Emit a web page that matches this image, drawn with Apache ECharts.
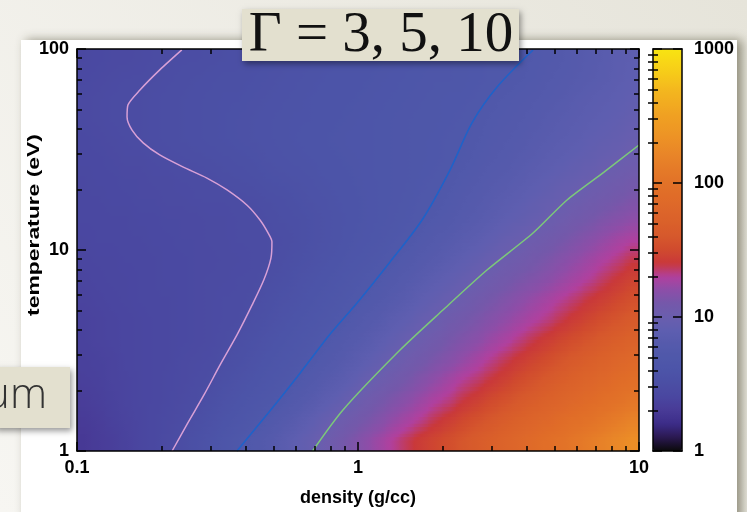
<!DOCTYPE html>
<html><head><meta charset="utf-8">
<script src="https://cdn.jsdelivr.net/npm/echarts@6/dist/echarts.min.js"></script>
<style>html,body{margin:0;padding:0;background:#f0efe9;overflow:hidden}#c{width:747px;height:512px}</style>
</head><body><div id="c"></div>
<script>
// ---- data ----
const densityRange = [0.1, 10];      // g/cc
const temperatureRange = [1, 100];   // eV
const gammaRange = [1, 1000];
const densityMinorTicks = [0.2,0.3,0.4,0.5,0.6,0.7,0.8,0.9,2,3,4,5,6,7,8,9];
const temperatureMinorTicks = [2,3,4,5,6,7,8,9,20,30,40,50,60,70,80,90];
const gammaMinorTicks = [2,3,4,5,6,7,8,9,20,30,40,50,60,70,80,90,200,300,400,500,600,700,800,900];
const titleText = 'Γ = 3, 5, 10';
const sideText = 'um';
const xName = 'density (g/cc)';
const yName = 'temperature (eV)';

// log10(Γ) x 100 ; 20 rows (bottom T≈1.1 eV → top T≈89 eV), 40 density columns (0.1 → 10)
const gammaLogRows = [
[29,32,34,37,40,43,46,49,54,58,63,68,73,78,84,90,95,101,107,113,119,125,131,137,143,148,153,159,165,170,176,182,188,194,200,206,212,218,224,230],
[31,33,36,38,40,43,45,47,51,55,59,63,67,72,78,83,89,95,101,106,111,116,122,127,132,138,143,149,155,160,166,172,178,183,189,195,200,206,212,218],
[33,35,37,39,41,42,44,46,48,52,56,59,63,67,70,76,81,87,92,98,104,109,114,119,124,129,133,139,144,150,155,161,166,172,177,183,188,194,199,205],
[35,36,38,39,41,42,44,45,47,49,53,56,59,63,66,70,75,80,85,90,96,101,106,111,116,121,126,131,135,140,145,151,156,162,167,173,178,183,189,194],
[36,37,38,40,41,42,43,45,46,47,50,53,56,60,63,66,70,74,79,84,89,94,99,104,108,113,117,122,127,132,137,142,147,152,158,163,168,173,179,184],
[37,38,39,40,41,42,43,44,45,46,48,51,54,57,60,63,66,70,74,79,83,88,93,98,102,106,111,115,119,124,128,133,138,143,148,153,158,163,168,173],
[37,38,39,40,41,42,43,44,45,46,47,48,51,54,57,60,63,66,69,73,78,82,87,91,96,100,105,109,113,117,121,125,129,133,138,143,148,153,158,163],
[38,39,40,41,42,43,43,44,45,46,47,47,49,52,55,57,60,63,66,69,72,76,81,85,90,94,98,102,107,111,115,119,123,127,131,135,140,144,149,154],
[39,40,41,41,42,43,44,44,45,46,46,47,47,50,52,55,58,60,63,66,69,72,76,80,84,88,92,96,100,104,108,112,115,119,123,127,131,136,141,146],
[40,41,41,42,42,43,44,44,45,45,46,46,47,48,50,53,55,58,60,63,65,68,71,75,79,82,86,90,94,98,102,105,109,113,117,121,125,129,133,138],
[41,42,42,43,43,44,44,45,45,46,46,47,47,48,49,51,54,56,58,61,63,65,68,70,74,78,81,85,88,92,96,99,103,106,110,114,118,122,126,129],
[42,42,43,43,44,44,45,45,45,46,46,47,47,49,51,52,54,56,58,60,62,64,66,68,70,73,76,80,83,86,90,93,96,100,103,107,110,114,117,120],
[43,43,44,44,45,45,46,46,47,47,47,48,49,51,52,54,56,57,59,60,62,64,65,67,69,70,73,77,80,83,86,89,92,95,98,101,104,107,110,113],
[43,44,44,45,45,46,46,47,47,48,50,51,52,54,55,56,57,59,60,61,63,64,65,66,68,69,71,74,77,80,82,85,88,91,94,96,99,102,104,107],
[44,44,45,46,46,47,48,49,50,51,52,53,54,56,57,58,59,60,61,62,63,64,65,66,67,68,69,71,74,77,79,82,84,87,89,92,94,97,99,102],
[44,45,46,47,48,49,50,51,52,53,54,55,56,57,58,59,60,61,62,63,63,64,65,66,67,68,69,70,72,75,77,79,82,84,86,88,91,93,95,98],
[45,46,47,48,48,49,50,51,52,53,54,55,56,57,58,59,59,60,61,62,63,64,65,66,67,67,68,69,71,73,75,77,79,82,84,86,88,90,92,95],
[45,46,47,48,48,49,50,51,52,53,54,54,55,56,57,58,59,60,61,61,62,63,64,65,66,67,68,68,69,71,73,75,77,79,81,84,86,88,90,92],
[44,45,46,47,47,48,49,50,51,52,53,53,54,55,56,57,58,59,60,60,61,62,63,64,65,66,66,67,68,69,70,72,74,77,79,81,83,85,88,90],
[43,44,45,45,46,47,48,49,49,50,51,52,53,54,55,56,57,58,59,59,60,61,62,63,64,65,66,67,68,69,69,70,73,75,77,80,82,84,87,89]
];

// contour lines [density, temperature]
const contourGamma3 = [[0.218,1],[0.248,1.38],[0.283,1.90],[0.323,2.68],[0.371,3.78],[0.420,5.33],[0.462,7.09],[0.490,9.12],[0.494,11.0],[0.478,12.2],[0.448,14.1],[0.403,16.7],[0.342,19.9],[0.290,22.8],[0.238,25.9],[0.197,29.7],[0.172,34.1],[0.157,39.5],[0.1507,45.9],[0.1518,52.6],[0.1675,62.5],[0.197,78.7],[0.236,99]];
const contourGamma5 = [[0.371,1],[0.48,1.55],[0.622,2.44],[0.80,3.85],[0.992,5.45],[1.30,8.72],[1.69,14.1],[2.125,25.0],[2.545,42.9],[3.125,64.7],[4.197,98.9]];
const contourGamma10 = [[0.689,1],[0.884,1.60],[1.411,3.18],[2.006,5.03],[2.877,7.95],[4.197,12.15],[5.545,17.74],[7.505,24.4],[10,33.3]];

// colour table, evenly spaced in log10(Γ) from 0 to 3
const colormap = ['#0a0a0a','#2a1850','#3c2c88','#483a96','#4a46a0','#4b4ea4','#4c54a8','#4f58aa','#555aac','#5e5eb0','#6a5eae','#7458aa','#8c4ea8','#b0409e','#c9383a','#d04a2e','#d6582c','#da602a','#dd662a','#e06c28','#e27228','#e57a28','#e88428','#ec8e26','#ee9824','#f0a022','#f2ac20','#f4b81e','#f6c81a','#f8d616','#f8e412'];

// ---- build ----
const nCols = gammaLogRows[0].length, nRows = gammaLogRows.length;
const colCats = [], rowCats = [], cells = [];
for (let i = 0; i < nCols; i++) colCats.push(String(i));
for (let j = 0; j < nRows; j++) rowCats.push(String(j));
gammaLogRows.forEach((row, j) => row.forEach((v, i) => cells.push([i, j, v / 100])));

// smooth (Gouraud-like) shading between cell centres
function cellValue(i, j) { return gammaLogRows[j][i] / 100; }
function shade(x, y) {
  x = Math.max(0, Math.min(nCols - 1, x)); y = Math.max(0, Math.min(nRows - 1, y));
  const i0 = Math.floor(x), j0 = Math.floor(y);
  const i1 = Math.min(i0 + 1, nCols - 1), j1 = Math.min(j0 + 1, nRows - 1);
  const fx = x - i0, fy = y - j0;
  const a = cellValue(i0, j0) * (1 - fx) + cellValue(i1, j0) * fx;
  const b = cellValue(i0, j1) * (1 - fx) + cellValue(i1, j1) * fx;
  return a * (1 - fy) + b * fy;
}
function colorOf(v) { return echarts.color.lerp(Math.max(0, Math.min(1, v / 3)), colormap); }

const PL = 77, PT = 49, PW = 562, PH = 402;
const CBL = 653, CBW = 29;
const lab = {fontFamily: '"Liberation Sans", Arial, sans-serif', fontWeight: 'bold', fontSize: 18, color: '#000'};
const black = {color: '#000', width: 1.5};
const fmt = v => String(+Number(v).toPrecision(6));

function logAxis(grid, pos, range, labels, extra) {
  return Object.assign({
    type: 'log', logBase: 10, gridIndex: grid, position: pos, min: range[0], max: range[1], z: 10,
    axisLine: {show: true, onZero: false, lineStyle: black},
    axisTick: {show: true, inside: true, length: 9, lineStyle: black},
    splitLine: {show: false},
    axisLabel: labels ? Object.assign({margin: 8, formatter: fmt}, lab) : {show: false}
  }, extra || {});
}
function minorAxis(grid, pos, range, ticks) {
  return {
    type: 'log', logBase: 10, gridIndex: grid, position: pos, min: range[0], max: range[1], z: 10,
    axisLine: {show: false}, splitLine: {show: false}, axisLabel: {show: false},
    axisTick: {show: true, inside: true, length: 5, customValues: ticks, lineStyle: {color: '#000', width: 1.5}}
  };
}

const chart = echarts.init(document.getElementById('c'));
chart.setOption({
  animation: false,
  grid: [
    {left: PL, top: PT, width: PW, height: PH},
    {left: PL, top: PT, width: PW, height: PH},
    {left: CBL, top: PT, width: CBW, height: PH}
  ],
  xAxis: [
    {type: 'category', gridIndex: 0, data: colCats, show: false},
    logAxis(1, 'bottom', densityRange, true, {name: xName, nameLocation: 'middle', nameGap: 38, nameTextStyle: lab}),
    logAxis(1, 'top', densityRange, false),
    minorAxis(1, 'bottom', densityRange, densityMinorTicks),
    minorAxis(1, 'top', densityRange, densityMinorTicks),
    {type: 'value', gridIndex: 2, min: 0, max: 1, position: 'bottom', z: 10, axisLine: {show: true, lineStyle: black}, axisTick: {show: false}, axisLabel: {show: false}, splitLine: {show: false}},
    {type: 'value', gridIndex: 2, min: 0, max: 1, position: 'top', z: 10, axisLine: {show: true, lineStyle: black}, axisTick: {show: false}, axisLabel: {show: false}, splitLine: {show: false}}
  ],
  yAxis: [
    {type: 'category', gridIndex: 0, data: rowCats, show: false},
    logAxis(1, 'left', temperatureRange, true),
    logAxis(1, 'right', temperatureRange, false),
    minorAxis(1, 'left', temperatureRange, temperatureMinorTicks),
    minorAxis(1, 'right', temperatureRange, temperatureMinorTicks),
    logAxis(2, 'right', gammaRange, true, {axisLabel: Object.assign({margin: 12, formatter: fmt}, lab)}),
    logAxis(2, 'left', gammaRange, false),
    minorAxis(2, 'right', gammaRange, gammaMinorTicks),
    minorAxis(2, 'left', gammaRange, gammaMinorTicks)
  ],
  visualMap: {
    type: 'continuous', min: 0, max: 3, dimension: 2, seriesIndex: 0, calculable: false,
    orient: 'vertical', left: CBL, top: PT, itemWidth: CBW, itemHeight: PH, padding: 0,
    text: null, hoverLink: false, z: 1, inRange: {color: colormap}
  },
  series: [
    {type: 'custom', xAxisIndex: 0, yAxisIndex: 0, data: cells, silent: true, z: 1, clip: true,
     dimensions: ['col', 'row', 'logGamma'], encode: {x: 0, y: 1},
     renderItem: function (params, api) {
       const i = api.value(0), j = api.value(1);
       const c = api.coord([i, j]);
       const sz = api.size([1, 1]);
       const w = sz[0], h = sz[1], n = 6;
       const children = [];
       for (let s = 0; s < n; s++) {
         const yy = j + 0.5 - (s + 0.5) / n;
         const stops = [];
         for (let k = 0; k <= 4; k++) stops.push({offset: k / 4, color: colorOf(shade(i - 0.5 + k / 4, yy))});
         children.push({type: 'rect', shape: {x: c[0] - w / 2 - 0.5, y: c[1] - h / 2 + s * h / n - 0.5, width: w + 1, height: h / n + 1},
           style: {fill: new echarts.graphic.LinearGradient(0, 0, 1, 0, stops)}});
       }
       return {type: 'group', children: children};
     }},
    {type: 'line', xAxisIndex: 1, yAxisIndex: 1, data: contourGamma3, showSymbol: false, smooth: 0.25, silent: true, z: 5,
     lineStyle: {color: '#d8a0d6', width: 1.5}},
    {type: 'line', xAxisIndex: 1, yAxisIndex: 1, data: contourGamma5, showSymbol: false, smooth: 0.3, silent: true, z: 5,
     lineStyle: {color: '#1f62c8', width: 1.6}},
    {type: 'line', xAxisIndex: 1, yAxisIndex: 1, data: contourGamma10, showSymbol: false, smooth: 0.25, silent: true, z: 5,
     lineStyle: {color: '#7cc87a', width: 1.5}}
  ],
  graphic: [
    {type: 'rect', z: -20, silent: true, shape: {x: 0, y: 0, width: 747, height: 512},
     style: {fill: {type: 'linear', x: 1, y: 0, x2: 0, y2: 1, colorStops: [{offset: 0, color: '#e6e4da'}, {offset: 1, color: '#f7f6f2'}]}}},
    {type: 'rect', z: -10, silent: true, shape: {x: 21, y: 40, width: 716, height: 490},
     style: {fill: '#ffffff', shadowBlur: 10, shadowColor: 'rgba(70,65,40,0.55)', shadowOffsetX: 5, shadowOffsetY: 0}},
    {type: 'text', z: 20, silent: true, x: 35, y: 225, rotation: Math.PI / 2, scaleX: 1.43,
     style: {text: yName, fontFamily: '"Liberation Sans", Arial, sans-serif', fontWeight: 'bold', fontSize: 16, fill: '#000', align: 'center', verticalAlign: 'middle'}},
    {type: 'rect', z: 50, silent: true, shape: {x: 242, y: 9, width: 277, height: 52},
     style: {fill: '#e3e0cf', shadowBlur: 6, shadowColor: 'rgba(0,0,0,0.4)', shadowOffsetX: 2, shadowOffsetY: 3}},
    {type: 'text', z: 51, silent: true, x: 381, y: 36,
     style: {text: titleText, fontFamily: '"Liberation Serif", "DejaVu Serif", serif', fontSize: 57, fill: '#111', align: 'center', verticalAlign: 'middle'}},
    {type: 'rect', z: 50, silent: true, shape: {x: -6, y: 367, width: 76, height: 61},
     style: {fill: '#e3e0cf', shadowBlur: 6, shadowColor: 'rgba(0,0,0,0.4)', shadowOffsetX: 2, shadowOffsetY: 3}},
    {type: 'text', z: 51, silent: true, x: 47, y: 396,
     style: {text: sideText, fontFamily: '"Open Sans", sans-serif', fontWeight: 300, fontSize: 42, fill: '#333', align: 'right', verticalAlign: 'middle'}}
  ]
});
</script></body></html>
